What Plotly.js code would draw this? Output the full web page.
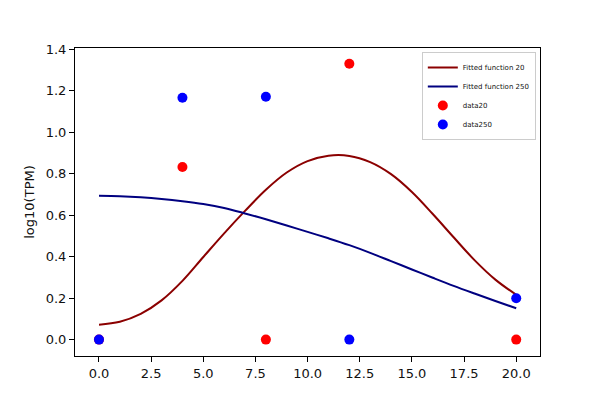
<!DOCTYPE html>
<html>
<head>
<meta charset="utf-8">
<script src="https://cdn.plot.ly/plotly-3.0.1.min.js"></script>
<style>html,body{margin:0;padding:0;background:#fff;}#chart{width:600px;height:400px;}</style>
</head>
<body>
<div id="chart"></div>
<script>
// Fitted curves (at integer x)
const fitX = [0,1,2,3,4,5,6,7,8,9,10,11,12,13,14,15,16,17,18,19,20];
const fit20 = [0.072,0.086,0.124,0.189,0.283,0.398,0.512,0.620,0.722,0.805,0.860,0.886,0.885,0.855,0.797,0.711,0.605,0.493,0.383,0.289,0.216];
const fit250 = [0.693,0.691,0.686,0.678,0.667,0.653,0.634,0.608,0.580,0.550,0.519,0.488,0.455,0.418,0.378,0.338,0.298,0.259,0.222,0.186,0.151];
// Data points
const dataX = [0,4,8,12,20];
const data20 = [0,0.832,0,1.329,0];
const data250 = [0,1.165,1.170,0,0.199];
const tickXVals = [0,2.5,5,7.5,10,12.5,15,17.5,20];
const tickYVals = [0,0.2,0.4,0.6,0.8,1.0,1.2,1.4];

const traces = [
  {x: fitX, y: fit20, mode: 'lines', name: 'Fitted function 20', line: {color: '#8b0000', width: 2, shape: 'spline', smoothing: 1}},
  {x: fitX, y: fit250, mode: 'lines', name: 'Fitted function 250', line: {color: '#000080', width: 2, shape: 'spline', smoothing: 1}},
  {x: dataX, y: data20, mode: 'markers', name: 'data20', marker: {color: '#ff0000', size: 10}},
  {x: dataX, y: data250, mode: 'markers', name: 'data250', marker: {color: '#0000ff', size: 10}}
];

const axisCommon = {
  showgrid: false, zeroline: false, showline: true, linecolor: '#000', linewidth: 1, mirror: true,
  ticks: 'outside', ticklen: 5, tickwidth: 1, tickcolor: '#000',
  tickfont: {family: 'DejaVu Sans', size: 13, color: '#111'}
};

const layout = {
  width: 600, height: 400,
  margin: {l: 75, r: 60, t: 48, b: 44, pad: 0},
  paper_bgcolor: '#fff', plot_bgcolor: '#fff',
  font: {family: 'DejaVu Sans', color: '#111'},
  showlegend: true,
  legend: {
    x: 0.991, xanchor: 'right', y: 0.987, yanchor: 'top',
    bgcolor: 'rgba(255,255,255,0.8)', bordercolor: '#ccc', borderwidth: 1,
    font: {family: 'DejaVu Sans', size: 7, color: '#111'},
    itemwidth: 30, tracegroupgap: 0
  },
  xaxis: Object.assign({}, axisCommon, {
    range: [-1.15, 21.14], tickvals: tickXVals, tickformat: '.1f'
  }),
  yaxis: Object.assign({}, axisCommon, {
    range: [-0.079, 1.405], tickvals: tickYVals, tickformat: '.1f',
    title: {text: 'log10(TPM)', font: {family: 'DejaVu Sans', size: 13, color: '#111'}, standoff: 8}
  })
};

Plotly.newPlot('chart', traces, layout, {displayModeBar: false, staticPlot: true});
</script>
</body>
</html>
